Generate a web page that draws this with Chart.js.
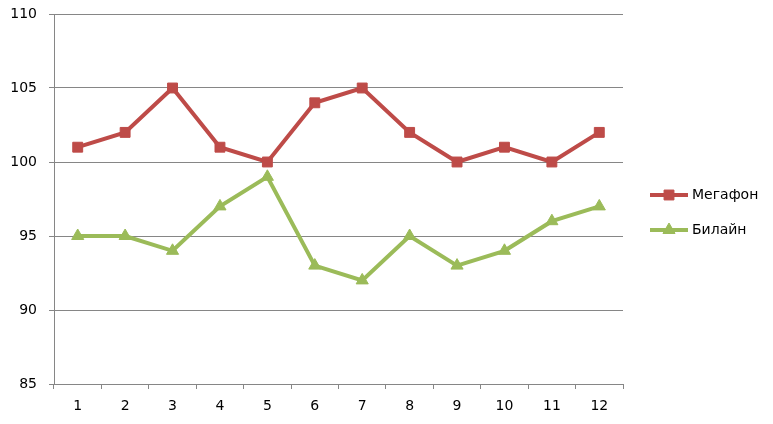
<!DOCTYPE html>
<html><head><meta charset="utf-8">
<script src="https://cdn.jsdelivr.net/npm/chart.js@4/dist/chart.umd.min.js"></script>
<style>html,body{margin:0;padding:0;background:#fff}#wrap{width:773px;height:424px}</style>
</head><body><div id="wrap"><canvas id="c" width="773" height="424"></canvas></div>
<script>
const categories = ['1','2','3','4','5','6','7','8','9','10','11','12'];
const megafon = [101,102,105,101,100,104,105,102,100,101,100,102];
const beeline = [95,95,94,97,99,93,92,95,93,94,96,97];
const seriesNames = ['Мегафон','Билайн'];
const RED = '#BE4B48', GREEN = '#9BBB59';
const FONT = '"DejaVu Sans", sans-serif';

const legendPlugin = {
  id: 'customLegend',
  afterDraw(chart) {
    const ctx = chart.ctx;
    const items = chart.data.datasets;
    const x0 = 650, ys = [195, 230];
    items.forEach((ds, i) => {
      const y = ys[i];
      ctx.save();
      ctx.strokeStyle = ds.borderColor; ctx.lineWidth = ds.borderWidth;
      ctx.beginPath(); ctx.moveTo(x0, y); ctx.lineTo(x0 + 38, y); ctx.stroke();
      ctx.fillStyle = ds.pointBackgroundColor; ctx.strokeStyle = ds.pointBorderColor; ctx.lineWidth = 1;
      Chart.helpers.drawPoint(ctx, {pointStyle: ds.pointStyle, radius: ds.pointRadius, borderWidth: 1}, x0 + 19, y);
      ctx.fillStyle = '#000'; ctx.font = '14px ' + FONT; ctx.textBaseline = 'middle';
      ctx.fillText(ds.label, x0 + 42, y);
      ctx.restore();
    });
  }
};

new Chart(document.getElementById('c'), {
  type: 'line',
  data: {
    labels: categories,
    datasets: [
      {label: seriesNames[0], data: megafon, borderColor: RED, backgroundColor: RED, borderWidth: 4,
       pointStyle: 'rect', pointRadius: 7, pointBackgroundColor: RED, pointBorderColor: RED, pointBorderWidth: 1, tension: 0},
      {label: seriesNames[1], data: beeline, borderColor: GREEN, backgroundColor: GREEN, borderWidth: 4,
       pointStyle: 'triangle', pointRadius: 7, pointBackgroundColor: GREEN, pointBorderColor: GREEN, pointBorderWidth: 1, tension: 0}
    ]
  },
  options: {
    responsive: false, animation: false, devicePixelRatio: 1,
    layout: {padding: {top: 14, right: 150, left: 0, bottom: 0}},
    plugins: {legend: {display: false}, tooltip: {enabled: false}},
    scales: {
      x: {
        offset: true,
        grid: {offset: true, drawOnChartArea: false, color: '#868686', tickLength: 5},
        border: {color: '#868686', width: 1},
        ticks: {color: '#000', font: {family: FONT, size: 14}, padding: 9, maxRotation: 0},
        afterFit(s) { s.height = 40; s.paddingLeft = 0; s.paddingRight = 0; }
      },
      y: {
        min: 85, max: 110,
        grid: {color: '#868686', tickLength: 5},
        border: {color: '#868686', width: 1},
        ticks: {stepSize: 5, color: '#000', font: {family: FONT, size: 14}, padding: 12},
        afterFit(s) { s.width = 54; s.paddingTop = 0; s.paddingBottom = 0; }
      }
    }
  },
  plugins: [legendPlugin]
});
</script></body></html>
